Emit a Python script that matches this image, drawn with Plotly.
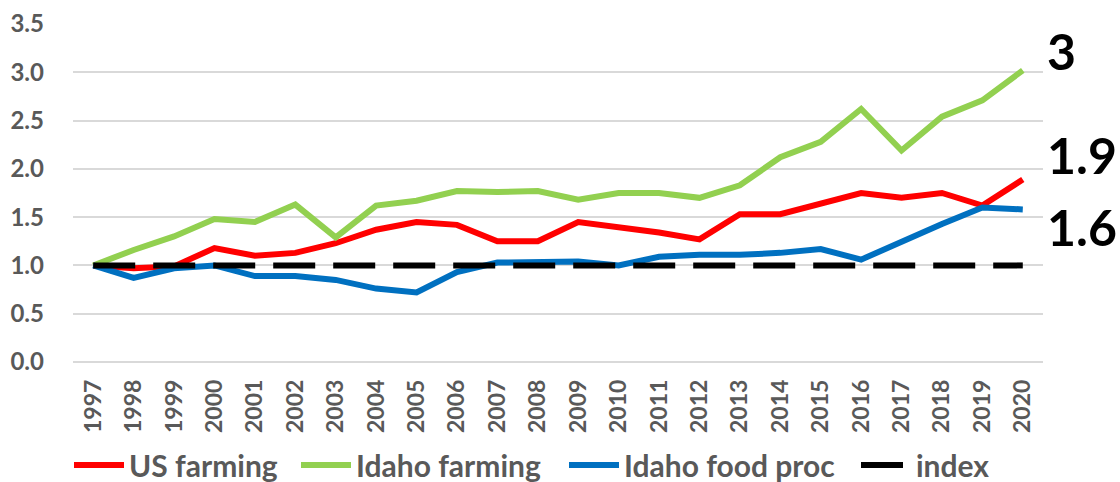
import plotly.graph_objects as go

years = [str(y) for y in range(1997, 2021)]
us_farming = [1.00, 0.97, 0.99, 1.18, 1.10, 1.13, 1.23, 1.37, 1.45, 1.42, 1.25, 1.25,
              1.45, 1.40, 1.34, 1.27, 1.53, 1.53, 1.64, 1.75, 1.70, 1.75, 1.62, 1.89]
idaho_farming = [1.00, 1.16, 1.30, 1.48, 1.45, 1.63, 1.29, 1.62, 1.67, 1.77, 1.76, 1.77,
                 1.68, 1.75, 1.75, 1.70, 1.83, 2.12, 2.28, 2.62, 2.19, 2.54, 2.71, 3.02]
idaho_food_proc = [1.00, 0.87, 0.97, 1.00, 0.89, 0.89, 0.85, 0.76, 0.72, 0.93, 1.03, 1.03,
                   1.04, 1.00, 1.09, 1.11, 1.11, 1.13, 1.17, 1.06, 1.25, 1.43, 1.60, 1.58]
index = [1.0] * len(years)

series_names = ["US farming", "Idaho farming", "Idaho food proc", "index"]
series_colors = ["#FF0000", "#92D050", "#0070C0", "#000000"]
series_values = [us_farming, idaho_farming, idaho_food_proc, index]
legend_x_px = [69, 296, 564, 856]

FONT = "Lato"
GRAY = "#595959"

fig = go.Figure()
for i, (name, color, vals) in enumerate(zip(series_names, series_colors, series_values)):
    fig.add_trace(go.Scatter(
        x=years, y=vals, name=name, mode="lines",
        line=dict(color=color, width=6, dash="42px,18px" if name == "index" else "solid"),
        legend="legend" if i == 0 else f"legend{i+1}",
    ))

# end-of-line value labels
last_idx = len(years) - 1
label_specs = [(idaho_farming, 19), (us_farming, 24), (idaho_food_proc, -18)]
for vals, ysh in label_specs:
    v = round(vals[-1], 1)
    fig.add_annotation(x=last_idx, y=vals[-1], text=f"{v:g}", showarrow=False,
                       xref="x", yref="y",
                       xanchor="left", yanchor="middle", xshift=22, yshift=ysh,
                       font=dict(family=FONT, size=50, color="#000000", weight="bold"))

legend_common = dict(orientation="h", xref="container", yref="container",
                     xanchor="left", yanchor="middle", y=1 - 465 / 482,
                     bgcolor="rgba(0,0,0,0)", borderwidth=0, itemwidth=50,
                     font=dict(family=FONT, size=30, color=GRAY, weight="bold"))
layout_legends = {}
for i, px in enumerate(legend_x_px):
    key = "legend" if i == 0 else f"legend{i+1}"
    layout_legends[key] = dict(x=px / 1120, **legend_common)

fig.update_layout(
    width=1120, height=482,
    margin=dict(l=73, r=77, t=24, b=120, autoexpand=False),
    paper_bgcolor="white", plot_bgcolor="white",
    showlegend=True,
    font=dict(family=FONT, color=GRAY),
    xaxis=dict(type="category", range=[-0.5, 23.5], tickangle=-90,
               showgrid=False, showline=False, zeroline=False, ticks="",
               ticklabelstandoff=12,
               tickfont=dict(family=FONT, size=23, color=GRAY, weight="bold")),
    yaxis=dict(range=[0, 3.5], dtick=0.5, tickformat=".1f",
               showgrid=True, gridcolor="#D9D9D9", gridwidth=1.5,
               zeroline=True, zerolinecolor="#D9D9D9", zerolinewidth=1.5,
               showline=False, ticks="", ticklabelstandoff=28,
               tickfont=dict(family=FONT, size=24, color=GRAY, weight="bold")),
    **layout_legends,
)

fig.write_html("out.html", config={"displayModeBar": False},
               post_script="document.body.style.margin='0';")
